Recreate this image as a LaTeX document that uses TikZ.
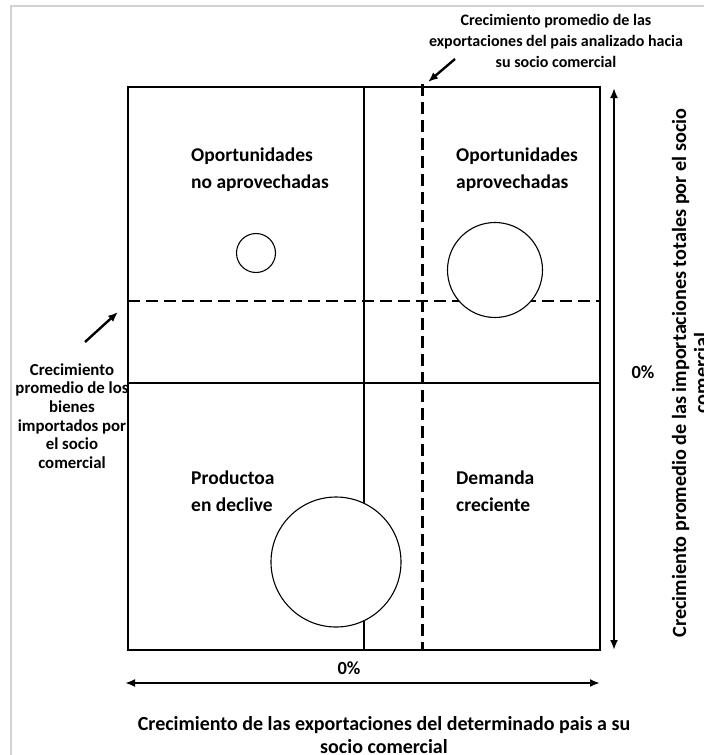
\documentclass[tikz,border=0pt]{standalone}
\usepackage{fontspec}
\setmainfont{Carlito}
\usetikzlibrary{arrows.meta}
\begin{document}
\begin{tikzpicture}[x=1pt,y=-1pt,
  frame/.style={line width=1.3pt},
  dashline/.style={line width=2.5pt,dash pattern=on 12pt off 6pt},
  bub/.style={draw,circle,line width=1.1pt,fill=white,inner sep=0pt},
  quad/.style={align=left,anchor=north west,inner sep=0pt,font=\bfseries\fontsize{19.5}{27}\selectfont},
  note/.style={align=center,inner sep=0pt,font=\bfseries\fontsize{16}{21}\selectfont},
  lnote/.style={align=center,inner sep=0pt,font=\bfseries\fontsize{16.8}{18.6}\selectfont},
  bignote/.style={align=center,inner sep=0pt,font=\bfseries\fontsize{20.2}{22}\selectfont},
  pct/.style={inner sep=0pt,font=\bfseries\fontsize{18.5}{20}\selectfont},
  axis/.style={line width=2.4pt,{Latex[length=10pt,width=8pt]}-{Latex[length=10pt,width=8pt]}},
  pointer/.style={line width=2.4pt,-{Latex[length=10pt,width=8pt]}}]
\useasboundingbox (0,0) rectangle (704,755);
% light outer border
\draw[gray!35,line width=1.6pt] (704,6) -- (11,6) -- (11,755);
% corners of the matrix
\coordinate (tl) at (128,87);
\coordinate (br) at (600,650);
\coordinate (vt) at (364,87);
\coordinate (vb) at (364,650);
\coordinate (hl) at (128,383);
\coordinate (hr) at (600,383);
\coordinate (dvt) at (422.5,84);
\coordinate (dvb) at (422.5,650);
\coordinate (dhl) at (128,301);
\coordinate (dhr) at (600,301);
\draw[frame] (tl) rectangle (br);
\draw[frame] (vt) -- (vb);
\draw[frame] (hl) -- (hr);
\draw[dashline] (dvt) -- (dvb);
\draw[dashline] (dhl) -- (dhr);
% bubbles
\node[bub,minimum size=39pt] (c1) at (256,253) {};
\node[bub,minimum size=95pt] (c2) at (495,270) {};
\node[bub,minimum size=130pt] (c3) at (336,562) {};
% quadrant labels
\node[quad] (q1) at (191,148) {Oportunidades\\no aprovechadas};
\node[quad] (q2) at (456,148) {Oportunidades\\aprovechadas};
\node[quad] (q3) at (191,471) {Productoa\\en declive};
\node[quad] (q4) at (456,471) {Demanda\\creciente};
% top note
\node[note] (tn) at (556,41) {Crecimiento promedio de las\\exportaciones del pais analizado hacia\\su socio comercial};
\coordinate (ta1) at (455,59);
\coordinate (ta2) at (428,82);
\draw[pointer] (ta1) -- (ta2);
% left note
\node[lnote] (ln) at (72,416) {Crecimiento\\promedio de los\\bienes\\importados por\\el socio\\comercial};
\coordinate (la1) at (85,342);
\coordinate (la2) at (118,312);
\draw[pointer] (la1) -- (la2);
% axes
\coordinate (ya) at (614,88);
\coordinate (yb) at (614,650);
\draw[axis] (ya) -- (yb);
\coordinate (xa) at (125,683);
\coordinate (xb) at (600,683);
\draw[axis] (xa) -- (xb);
\node[pct] (z1) at (349,668) {0\%};
\node[pct] (z2) at (643,372) {0\%};
\node[bignote,rotate=90] (yl) at (690,373) {Crecimiento promedio de las importaciones totales por el socio\\comercial};
\node[bignote,font=\bfseries\fontsize{20}{23}\selectfont] (xl) at (384,735) {Crecimiento de las exportaciones del determinado pais a su\\socio comercial};
\end{tikzpicture}
\end{document}
